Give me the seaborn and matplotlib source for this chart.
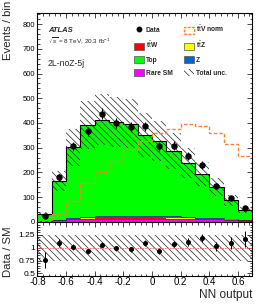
import numpy as np
import pandas as pd
import matplotlib
matplotlib.use("Agg")
import matplotlib.pyplot as plt
from matplotlib.patches import Patch
from matplotlib.lines import Line2D
from matplotlib.ticker import MultipleLocator, FuncFormatter
import seaborn as sns

# ---------------- data ----------------
edges = np.round(np.arange(-0.8, 0.71, 0.1), 2)
centers = np.round((edges[:-1] + edges[1:]) / 2, 3)

rare_sm = [1, 6, 10, 12, 13, 13, 13, 13, 13, 12, 12, 11, 10, 8, 5]
ttw = [0.3, 0.5, 1, 1, 1.5, 1.5, 1.5, 1.5, 1.5, 1.5, 1.5, 1.5, 1.5, 1, 1]
ttz = [0.2, 0.5, 1, 1, 1, 1, 1, 1, 1, 1, 1, 1, 1, 1, 0.5]
z_jets = [1, 2, 4, 7, 8, 8, 9, 7, 9, 11, 5, 4, 3, 2, 1]
top = [29, 157, 285, 371, 390, 382, 372, 330, 303, 262, 220, 176, 127, 76, 42]

data = [24, 181, 305, 366, 438, 401, 385, 386, 305, 308, 266, 231, 146, 96, 58]
ttv_norm = [5, 34, 85, 158, 202, 245, 295, 326, 360, 374, 397, 388, 360, 315, 268]
rel_unc = [0.25] * 15

processes = ["Rare SM", "ttW", "ttZ", "Z", "Top"]
colors = {"Rare SM": "#ff00ff", "ttW": "#ff0000", "ttZ": "#ffff00",
          "Z": "#0066cc", "Top": "#00ff00"}
orange = "#ff7f2a"

# ---------------- style ----------------
sns.set_style("ticks")
plt.rcParams["font.family"] = ["Liberation Sans", "DejaVu Sans"]
plt.rcParams["mathtext.fontset"] = "custom"
plt.rcParams["mathtext.rm"] = "Liberation Sans"
plt.rcParams["mathtext.it"] = "Liberation Sans:italic"
plt.rcParams["axes.unicode_minus"] = False
plt.rcParams["hatch.linewidth"] = 0.5

fig = plt.figure(figsize=(2.67, 3.07), dpi=100)
ax = fig.add_axes([0.140, 0.277, 0.805, 0.681])
rax = fig.add_axes([0.140, 0.101, 0.805, 0.176], sharex=ax)

# stacked backgrounds
stack = {"Rare SM": rare_sm, "ttW": ttw, "ttZ": ttz, "Z": z_jets, "Top": top}
df = pd.concat([
    pd.DataFrame({"nn": centers, "events": vals, "process": name})
    for name, vals in stack.items()
])
sns.histplot(
    data=df, x="nn", weights="events", hue="process",
    hue_order=processes[::-1], multiple="stack", bins=edges.tolist(),
    element="step", fill=True, palette=colors, alpha=1,
    linewidth=0, legend=False, ax=ax
)

bkg = np.array([stack[p] for p in processes])
cum = np.cumsum(bkg, axis=0)
total = cum[-1]

ax.stairs(cum[0], edges, color="#550055", lw=0.4)
ax.stairs(cum[3], edges, color="#003366", lw=0.4)
ax.stairs(total, edges, color="black", lw=0.8, baseline=0)

# total uncertainty band
hatch = "\\" * 5
lo = total * (1 - np.array(rel_unc))
hi = total * (1 + np.array(rel_unc))
ax.fill_between(edges, np.append(lo, lo[-1]), np.append(hi, hi[-1]),
                step="post", facecolor="none", edgecolor="#222222",
                hatch=hatch, linewidth=0)

# signal shape
ax.stairs(ttv_norm, edges, color=orange, lw=1.0, ls=(0, (2.5, 1.5)))

# data
data = np.array(data)
ax.errorbar(centers, data, yerr=np.sqrt(data), fmt="o", color="black",
            markersize=3.6, elinewidth=0.8, capsize=0)

# ratio panel
ratio = data / total
ratio_err = np.sqrt(data) / total
r_lo = 1 - np.array(rel_unc)
r_hi = 1 + np.array(rel_unc)
rax.fill_between(edges, np.append(r_lo, r_lo[-1]), np.append(r_hi, r_hi[-1]),
                 step="post", facecolor="none", edgecolor="#222222",
                 hatch=hatch, linewidth=0)
rax.axhline(1, color="#ff6666", lw=0.6, ls=(0, (2, 1)))
rax.errorbar(centers, ratio, yerr=ratio_err, fmt="o", color="black",
             markersize=2.6, elinewidth=0.7, capsize=0)

# ---------------- axes ----------------
ax.set_xlim(-0.8, 0.7)
ax.set_ylim(0, 845)
rax.set_ylim(0.45, 1.5)

for a in (ax, rax):
    a.tick_params(which="both", direction="in", top=True, right=True,
                  width=0.5, colors="black")
    a.tick_params(which="major", length=3.6)
    a.tick_params(which="minor", length=1.8)
    for s in a.spines.values():
        s.set_linewidth(0.8)
        s.set_color("black")
    a.set_xlabel("")
    a.set_ylabel("")

ax.xaxis.set_major_locator(MultipleLocator(0.2))
ax.xaxis.set_minor_locator(MultipleLocator(0.04))
ax.yaxis.set_major_locator(MultipleLocator(100))
ax.yaxis.set_minor_locator(MultipleLocator(20))
ax.tick_params(axis="x", labelbottom=False)
ax.tick_params(axis="y", labelsize=5.5, pad=1.5)

rax.set_yticks([0.5, 0.75, 1, 1.25])
rax.yaxis.set_minor_locator(MultipleLocator(0.05))
rax.xaxis.set_major_formatter(FuncFormatter(lambda v, _: f"{round(v, 2) + 0.0:g}"))
rax.yaxis.set_major_formatter(FuncFormatter(lambda v, _: f"{v:g}"))
rax.tick_params(axis="x", labelsize=7, pad=1)
rax.tick_params(axis="y", labelsize=6, pad=1.5)

ax.set_ylabel("Events / bin", fontsize=8.2, loc="top")
ax.yaxis.set_label_coords(-0.114, 1.057)
rax.set_ylabel("Data / SM", fontsize=8.2)
rax.yaxis.set_label_coords(-0.114, 0.45)
rax.set_xlabel("NN output", fontsize=8.5, loc="right")
rax.xaxis.set_label_coords(1.0, -0.24)

# ---------------- texts ----------------
fig.text(48 / 267, 1 - 30 / 307, "ATLAS", fontsize=5.5, fontweight="bold",
         fontstyle="italic", va="center")
fig.text(48 / 267, 1 - 41 / 307, r"$\sqrt{s}$ = 8 TeV, 20.3 fb$^{-1}$",
         fontsize=4.6, va="center")
fig.text(48 / 267, 1 - 63 / 307, "2L-noZ-5j", fontsize=6.2, va="center")

# ---------------- legend ----------------
box = dict(edgecolor="#555555", linewidth=0.5)
handles = [
    Line2D([], [], marker="o", color="black", ls="none", markersize=3.2),
    Patch(facecolor=colors["ttW"], **box),
    Patch(facecolor=colors["Top"], **box),
    Patch(facecolor=colors["Rare SM"], **box),
    Patch(facecolor="none", edgecolor=orange, linestyle=(0, (2, 1)), linewidth=1.0),
    Patch(facecolor=colors["ttZ"], **box),
    Patch(facecolor=colors["Z"], **box),
    Patch(facecolor="white", edgecolor="#222222", hatch=hatch, linewidth=0),
]
labels = ["Data", r"t$\bar{\rm t}$W", "Top", "Rare SM",
          r"t$\bar{\rm t}$V norm", r"t$\bar{\rm t}$Z", "Z", "Total unc."]
fig.legend(handles, labels, ncol=2, loc="upper left",
           bbox_to_anchor=(134 / 267, 1 - 24 / 307), frameon=False,
           prop={"size": 4.8, "weight": "bold"}, handlelength=1.5,
           handleheight=1.25, handletextpad=0.3, labelspacing=0.85,
           columnspacing=1.6, borderpad=0, borderaxespad=0)

fig.savefig("out.png", dpi=100)
